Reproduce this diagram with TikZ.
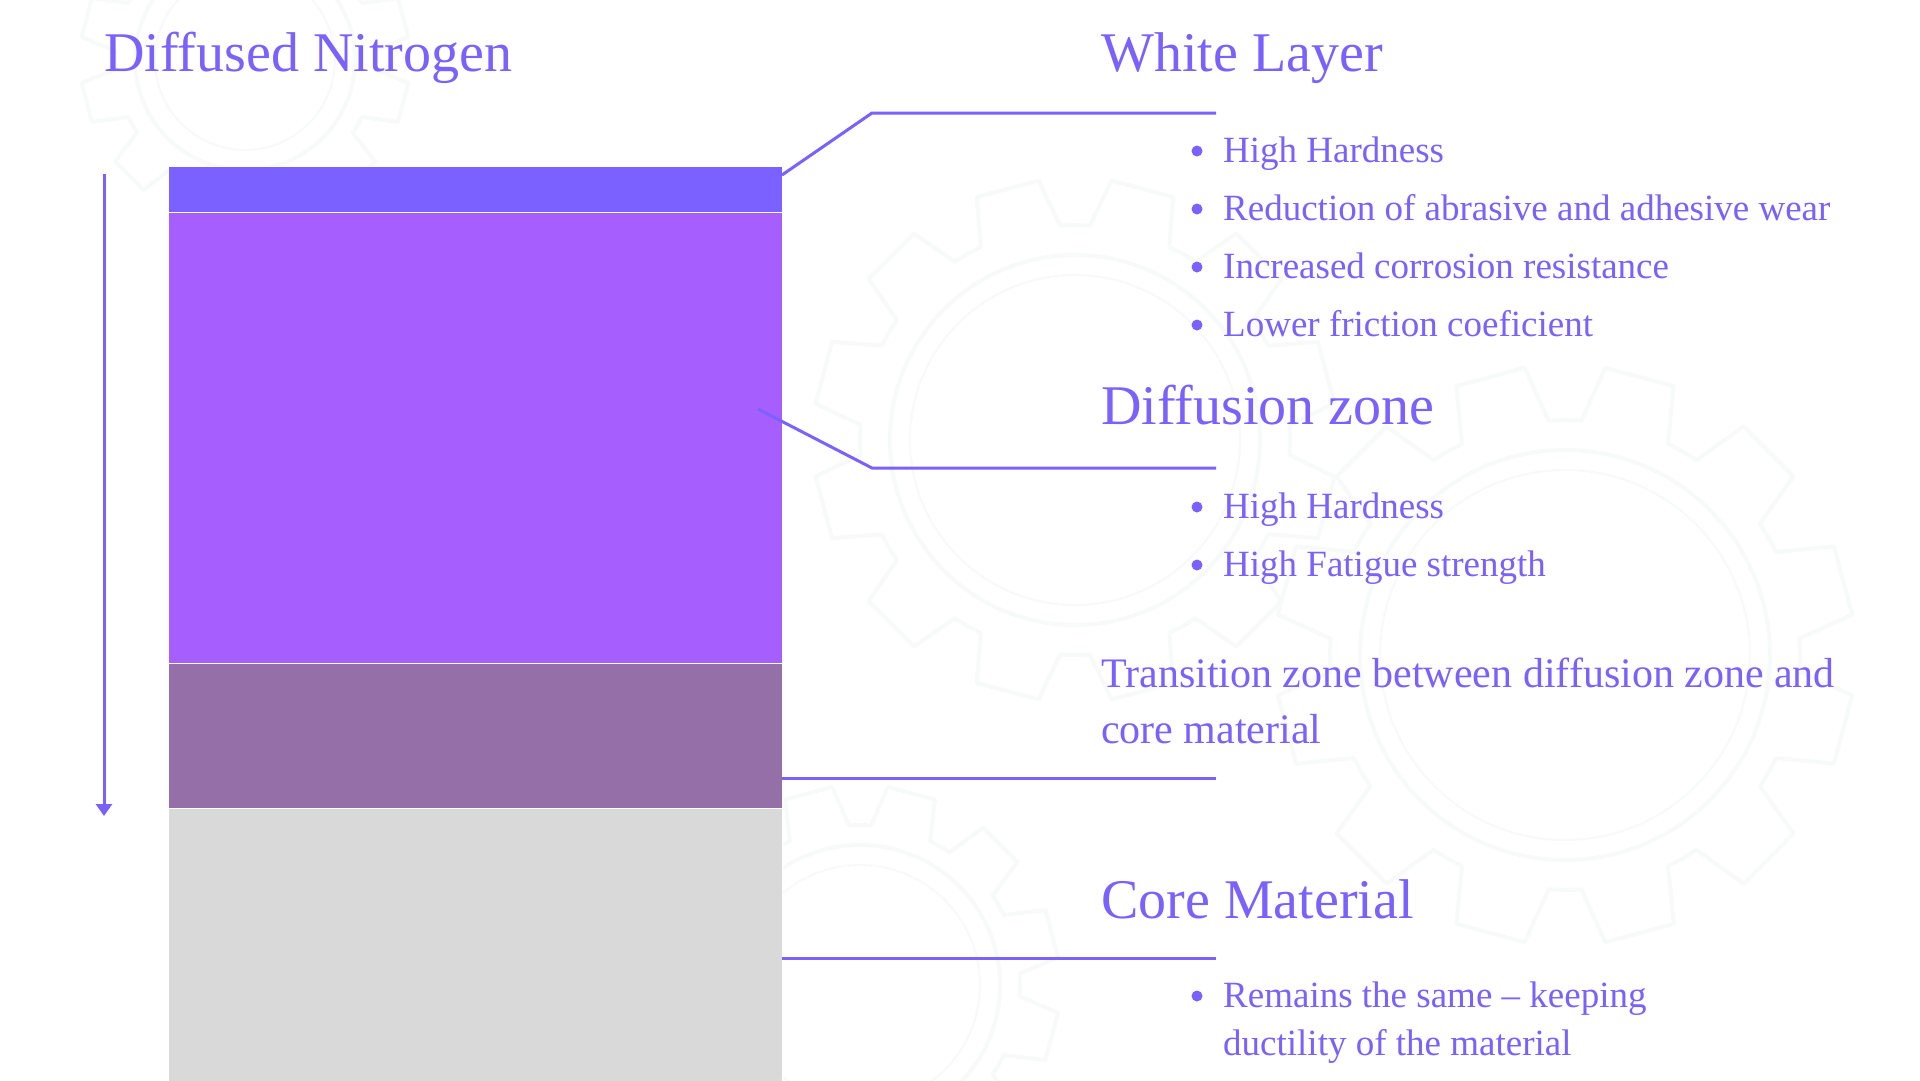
\documentclass[tikz,border=0pt]{standalone}
\usepackage{fontspec}
\setmainfont{Liberation Serif}
\usetikzlibrary{arrows.meta}
\definecolor{ink}{HTML}{7B61FF}
\definecolor{wl}{HTML}{7B61FF}
\definecolor{dz}{HTML}{A75EFF}
\definecolor{tz}{HTML}{946FA8}
\definecolor{cm}{HTML}{D9D9D9}
\definecolor{gearc}{HTML}{F8F9F9}
\tikzset{
  head/.style={inner sep=0pt, anchor=base west, text=ink, font=\fontsize{56}{60}\selectfont},
  item/.style={inner sep=0pt, anchor=base west, text=ink, font=\fontsize{37}{44}\selectfont},
  para/.style={inner sep=0pt, anchor=base west, text=ink, font=\fontsize{42}{50}\selectfont},
  dot/.style={circle, fill=ink, inner sep=0pt, minimum size=11pt},
  link/.style={draw=ink, line width=3pt},
  layer/.style={draw=white, line width=0.8pt},
  gearline/.style={draw=gearc, line width=4pt, line join=round}
}
\newcommand{\mygear}[4]{% center, inner radius, outer radius, ring radius
  \begin{scope}[shift={#1}]
  \draw[gearline] (0:#2) \foreach \k in {0,...,11}{
      -- ({\k*30+4}:#2) -- ({\k*30+8}:#3) -- ({\k*30+22}:#3) -- ({\k*30+26}:#2) -- ({\k*30+30}:#2)} -- cycle;
  \draw[gearline] (0,0) circle (#4);
  \draw[gearline, line width=2pt] (0,0) circle ({#4-20});
  \end{scope}}
\begin{document}
\begin{tikzpicture}[x=1pt,y=-1pt]
\useasboundingbox (0,0) rectangle (1920,1080);
\fill[white] (0,0) rectangle (1920,1080);
% faint background gears
\mygear{(1565,655)}{235}{290}{205}
\mygear{(1075,440)}{215}{262}{185}
\mygear{(245,60)}{130}{165}{110}
\mygear{(860,985)}{160}{200}{140}
% layers
\filldraw[layer, fill=cm] (168,808) rectangle (782,1082);
\filldraw[layer, fill=tz] (168,663) rectangle (782,808);
\filldraw[layer, fill=dz] (168,212) rectangle (782,663);
\filldraw[layer, fill=wl] (168,166) rectangle (782,212);
% titles
\node[head] (title) at (104,71) {Diffused Nitrogen};
\coordinate (atop) at (104,174);
\coordinate (abot) at (104,816);
\draw[link, -{Triangle[width=16pt,length=12pt]}] (atop) -- (abot);
% White layer
\node[head] (wlh) at (1101,71) {White Layer};
\coordinate (w0) at (782,175);
\coordinate (w1) at (872,113);
\coordinate (w2) at (1216,113);
\draw[link] (w0) -- (w1) -- (w2);
\node[item] (w-a) at (1223,162) {High Hardness};
\node[item] (w-b) at (1223,220) {Reduction of abrasive and adhesive wear};
\node[item] (w-c) at (1223,278) {Increased corrosion resistance};
\node[item] (w-d) at (1223,336) {Lower friction coeficient};
\foreach \n/\y in {wa/162,wb/220,wc/278,wd/336}{\node[dot] (\n) at (1197,\y-11) {};}
% Diffusion zone
\node[head] (dzh) at (1101,424) {Diffusion zone};
\coordinate (d0) at (758,409);
\coordinate (d1) at (872,468);
\coordinate (d2) at (1216,468);
\draw[link] (d0) -- (d1) -- (d2);
\node[item] (d-a) at (1223,518) {High Hardness};
\node[item] (d-b) at (1223,576) {High Fatigue strength};
\foreach \n/\y in {da/518,db/576}{\node[dot] (\n) at (1197,\y-11) {};}
% Transition
\node[para] (t1) at (1101,687) {Transition zone between diffusion zone and};
\node[para] (t2) at (1101,743) {core material};
\coordinate (t0) at (782,778);
\coordinate (tE) at (1216,778);
\draw[link] (t0) -- (tE);
% Core
\node[head] (cmh) at (1101,918) {Core Material};
\coordinate (c0) at (782,958);
\coordinate (cE) at (1216,958);
\draw[link] (c0) -- (cE);
\node[item] (c-a) at (1223,1007) {Remains the same – keeping};
\node[item] (c-b) at (1223,1055) {ductility of the material};
\node[dot] (ca) at (1197,996) {};
\end{tikzpicture}
\end{document}
